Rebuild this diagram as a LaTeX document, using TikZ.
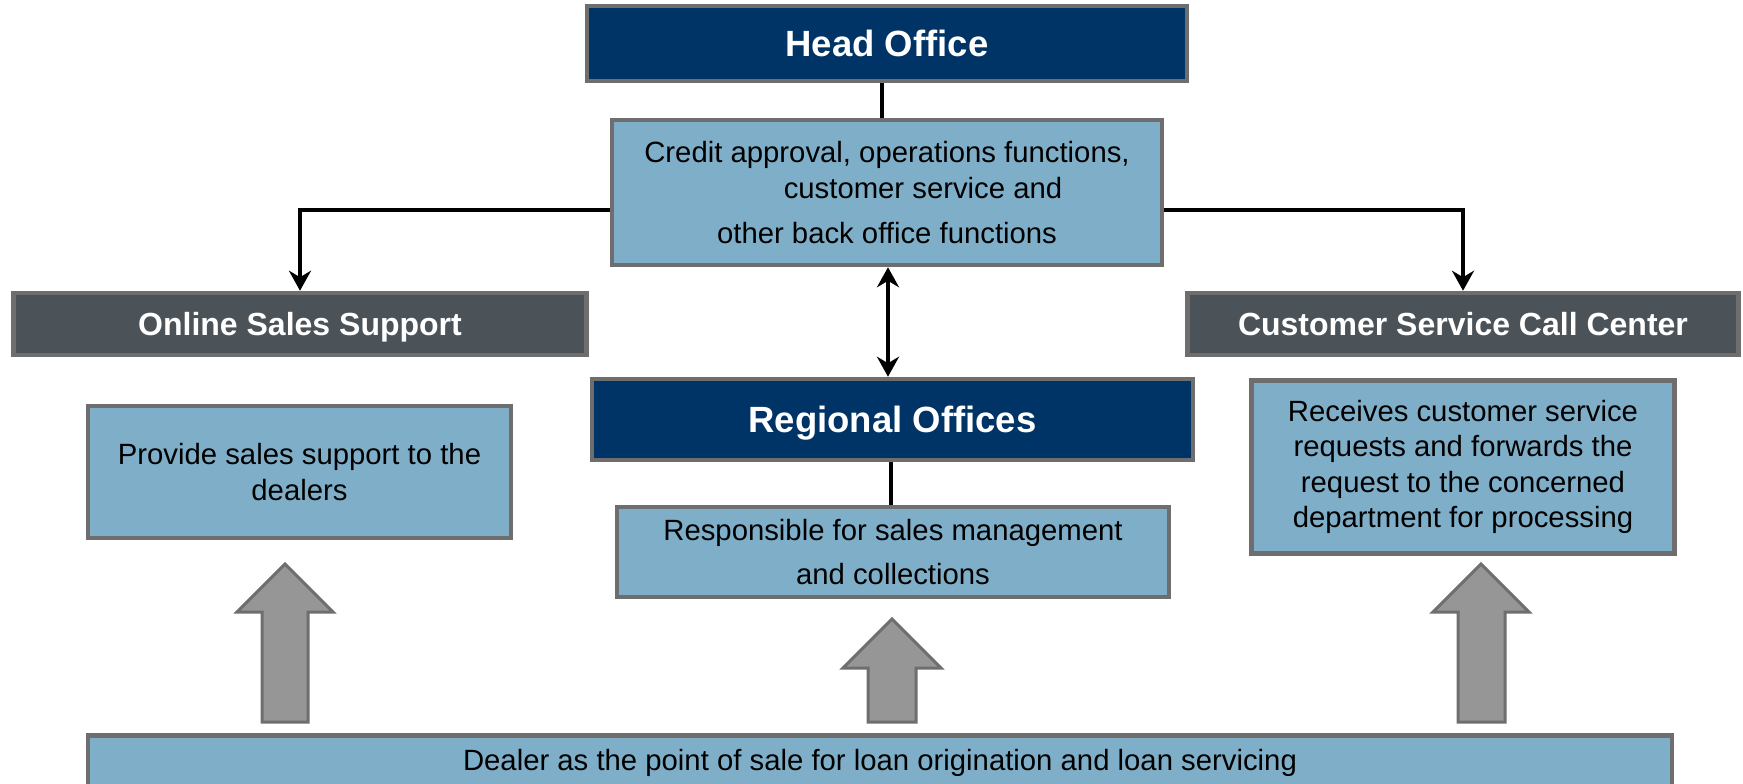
\documentclass[tikz,border=0pt]{standalone}
\usepackage{fontspec}
\setmainfont{Liberation Sans}
\usetikzlibrary{arrows.meta}
\definecolor{navy}{HTML}{003366}
\definecolor{lightblue}{HTML}{7FAFC8}
\definecolor{darkgrey}{HTML}{4C5358}
\definecolor{bordergrey}{HTML}{6E6E6E}
\definecolor{arrowgrey}{HTML}{969696}
\begin{document}
\begin{tikzpicture}[x=1pt,y=-1pt,
  box/.style={draw=bordergrey, line width=4.5pt, inner sep=0pt, align=center},
  navybox/.style={box, fill=navy, text=white, text depth=0pt, font=\fontsize{36.5}{44}\selectfont\bfseries},
  greybox/.style={box, fill=darkgrey, text=white, text depth=0pt, font=\fontsize{32}{38}\selectfont\bfseries},
  bluebox/.style={box, fill=lightblue, text=black, font=\fontsize{29.3}{35.6}\selectfont},
  conn/.style={line width=4.5pt, black},
  tipend/.style={-{Stealth[length=20pt,width=22pt]}},
  tipboth/.style={{Stealth[length=20pt,width=22pt]}-{Stealth[length=20pt,width=22pt]}},
  blockarrow/.style={fill=arrowgrey, draw=bordergrey, line width=3pt, line join=miter}
]
\useasboundingbox (0,0) rectangle (1743,784);

% boxes
\node[navybox, minimum width=600, minimum height=75] (head) at (887,43.5) {Head Office};
\node[bluebox, minimum width=550, minimum height=145] (credit) at (887,192.5)
  {Credit approval, operations functions,\\ \hspace*{72pt}customer service and\\[9pt] other back office functions};
\node[greybox, minimum width=573, minimum height=62] (online) at (300,324) {Online Sales Support};
\node[greybox, minimum width=551, minimum height=62] (cscc) at (1463,324) {Customer Service Call Center};
\node[bluebox, minimum width=423, minimum height=132] (provide) at (299.5,472)
  {Provide sales support to the\\ dealers};
\node[navybox, minimum width=601, minimum height=81] (regional) at (892.5,419.5) {Regional Offices};
\node[bluebox, minimum width=552, minimum height=90] (resp) at (893,552)
  {Responsible for sales management\\[8pt] and collections};
\node[bluebox, minimum width=423, minimum height=173] (receives) at (1463,467)
  {Receives customer service\\ requests and forwards the\\ request to the concerned\\ department for processing};
\node[bluebox, minimum width=1584, minimum height=55] (dealer) at (880,763)
  {Dealer as the point of sale for loan origination and loan servicing};

% connectors
\coordinate (hl) at (300,210);
\coordinate (hx) at (882,0);
\coordinate (dx) at (888,0);
\coordinate (rx) at (891,0);
\draw[conn] (head.south -| hx) -- (credit.north -| hx);
\draw[conn, tipend] (credit.west |- hl) -| (online.north);
\draw[conn, tipend] (credit.east |- hl) -| (cscc.north);
\draw[conn, tipboth] (credit.south -| dx) -- (regional.north -| dx);
\draw[conn] (regional.south -| rx) -- (resp.north -| rx);

% block arrows
\draw[blockarrow] (262,722) -- (262,612) -- (237,612) -- (285,564) -- (333,612) -- (308,612) -- (308,722) -- cycle;
\draw[blockarrow] (868,722) -- (868,668) -- (843,668) -- (892,619) -- (941,668) -- (916,668) -- (916,722) -- cycle;
\draw[blockarrow] (1458,722) -- (1458,612) -- (1433,612) -- (1481,564) -- (1529,612) -- (1505,612) -- (1505,722) -- cycle;
\end{tikzpicture}
\end{document}
